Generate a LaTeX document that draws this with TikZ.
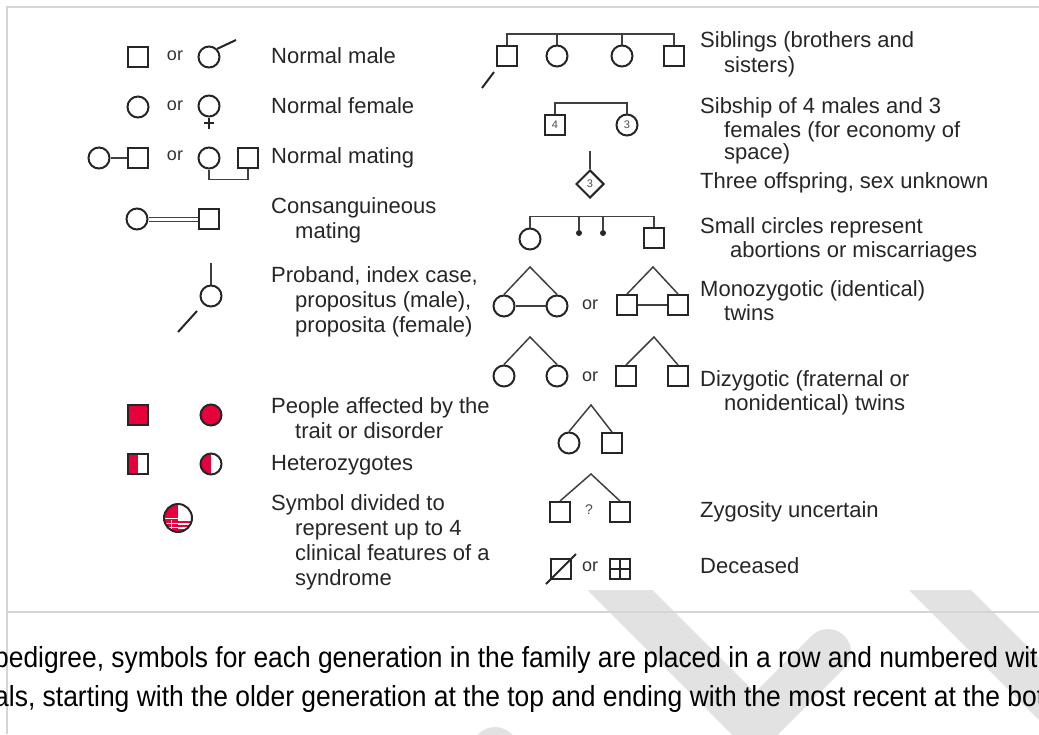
\documentclass[tikz,border=0pt]{standalone}
\usepackage{fontspec}
\usepackage{graphicx}
\setsansfont{Liberation Sans}
\usetikzlibrary{shapes.geometric}
\definecolor{cRed}{HTML}{E6003C}
\definecolor{cFrame}{HTML}{D2D6D6}
\definecolor{cMark}{HTML}{E2E2E2}
\newcommand{\ind}{\hspace*{24pt}}

\begin{document}
\begin{tikzpicture}[
  x=1pt, y=-1pt,
  every node/.style={font=\sffamily},
  male/.style={draw=black!85, line width=2pt, rectangle, minimum size=20pt, inner sep=0pt},
  female/.style={draw=black!85, line width=2pt, circle, minimum size=21pt, inner sep=0pt},
  sexless/.style={draw=black!85, line width=2pt, diamond, minimum width=28pt, minimum height=28pt, inner sep=0pt},
  lost/.style={fill=black!85, circle, minimum size=6pt, inner sep=0pt},
  link/.style={draw=black!75, line width=1.5pt},
  pointer/.style={draw=black!85, line width=2pt},
  desc/.style={anchor=north west, inner sep=0pt, align=left, text=black!85, font=\sffamily\fontsize{22}{25}\selectfont},
  descR/.style={desc, font=\sffamily\fontsize{22}{22}\selectfont},
  ortext/.style={inner sep=0pt, text=black!80, font=\sffamily\fontsize{18}{18}\selectfont},
  count/.style={font=\sffamily\fontsize{11}{11}\selectfont, text=black!70},
  affected/.style={fill=cRed},
  carrier/.style={path picture={\fill[cRed] (path picture bounding box.south west) rectangle (path picture bounding box.north);}},
  crossed/.style={path picture={\draw[black!85, line width=1.8pt] (path picture bounding box.north) -- (path picture bounding box.south) (path picture bounding box.west) -- (path picture bounding box.east);}},
  quarters/.style={path picture={
    \begin{scope}[shift={(path picture bounding box.center)}]
      \fill[cRed] (-15,-15) rectangle (0,15);
      \draw[white, line width=1pt] (-15,0) -- (0,0) (-12,5) -- (0,5) (-12,9) -- (0,9) (-7,2) -- (-7,12);
      \draw[cRed, line width=1.2pt] (0,4) -- (15,4) (0,8) -- (15,8) (0,12) -- (15,12);
    \end{scope}}},
]

\useasboundingbox (0,0) rectangle (1039,734);
\begin{scope}
\clip (0,590) rectangle (1039,734);
\draw[cMark, line width=46pt, line cap=round] (605,575) -- (755,725) -- (828,652);
\draw[cMark, line width=44pt] (925,575) -- (1100,750);
\draw[cMark, line width=46pt, line cap=round] (495,750) -- (560,815);
\end{scope}

\draw[cFrame, line width=2pt] (7,734) -- (7,7) -- (1039,7);
\draw[cFrame, line width=2pt] (7,612) -- (1039,612);

% left column
\node[male] (nm1) at (138,57) {};
\node[ortext] (or1) at (175,56) {or};
\node[female] (nm2) at (209,57) {};
\coordinate (nm2tip) at (236,40);
\draw[pointer] (nm2.45) -- (nm2tip);
\node[desc] (tnm) at (271,45.5) {\strut Normal male};

\node[female] (nf1) at (138,107) {};
\node[ortext] (or2) at (175,106) {or};
\node[female] (nf2) at (209,106) {};
\coordinate (nf2x) at (209,123);
\draw[pointer, line width=1.6pt] (nf2.south) -- ++(0,11);
\draw[pointer, line width=1.6pt] ([xshift=-5pt]nf2x) -- ([xshift=5pt]nf2x);
\node[desc] (tnf) at (271,95.5) {\strut Normal female};

\node[female] (mt1) at (99,158) {};
\node[male] (mt2) at (138,158) {};
\draw[link] (mt1) -- (mt2);
\node[ortext] (or3) at (175,156) {or};
\node[female] (mt3) at (209,158) {};
\node[male] (mt4) at (248,158) {};
\draw[link] (mt3.south) -- ++(0,10) -| (mt4.south);
\node[desc] (tmt) at (271,145.5) {\strut Normal mating};

\node[female] (cs1) at (137,219) {};
\node[male] (cs2) at (209,219) {};
\draw[link, line width=1pt, double, double distance=3pt] (cs1) -- (cs2);
\node[desc] (tcs) at (271,195.5) {\strut Consanguineous\\\ind mating};

\node[female] (pb) at (211,296) {};
\coordinate (pbtop) at (211,263);
\draw[link] (pbtop) -- (pb.north);
\coordinate (pba) at (178,332);
\coordinate (pbb) at (197,311);
\draw[pointer] (pba) -- (pbb);
\node[desc] (tpb) at (271,264.5) {\strut Proband, index case,\\\ind propositus (male),\\\ind proposita (female)};

\node[male, affected] (af1) at (138,415) {};
\node[female, affected] (af2) at (211,415) {};
\node[desc] (taf) at (271,395.5) {\strut People affected by the\\\ind trait or disorder};

\node[male, carrier] (hz1) at (138,464) {};
\node[female, carrier] (hz2) at (211,464) {};
\node[desc] (thz) at (271,452.5) {\strut Heterozygotes};

\node[female, minimum size=28pt, quarters] (dv) at (178,518) {};
\node[desc] (tdv) at (271,492.5) {\strut Symbol divided to\\\ind represent up to 4\\\ind clinical features of a\\\ind syndrome};

% right column
\node[male] (sb1) at (507,56) {};
\node[female] (sb2) at (557,56) {};
\node[female] (sb3) at (622,56) {};
\node[male] (sb4) at (674,56) {};
\coordinate (sbbar) at (0,34);
\draw[link] (sb1.north) |- (sbbar -| sb4.north) -- (sb4.north);
\foreach \s in {sb2, sb3} \draw[link] (\s.north) -- (\s.north |- sbbar);
\coordinate (sba) at (482,88);
\coordinate (sbb) at (494,72);
\draw[pointer] (sba) -- (sbb);
\node[desc] (tsb) at (700,29.5) {\strut Siblings (brothers and\\\ind sisters)};

\node[male, count] (sp1) at (555,125) {4};
\node[female, count] (sp2) at (627,125) {3};
\draw[link] (sp1.north) -- ++(0,-11) -| (sp2.north);
\node[descR] (tsp) at (700,97.6) {\strut Sibship of 4 males and 3\\\ind females (for economy of\\\ind space)};

\node[sexless, count] (tr) at (590,184) {3};
\coordinate (trtop) at (590,151);
\draw[link] (trtop) -- (tr.north);
\node[descR] (ttr) at (700,172.6) {\strut Three offspring, sex unknown};

\node[female] (ab1) at (530,239) {};
\node[lost] (ab2) at (579,233) {};
\node[lost] (ab3) at (603,233) {};
\node[male] (ab4) at (654,238) {};
\draw[link] (ab1.north) -- ++(0,-11) -| (ab4.north);
\coordinate (abbar) at (0,217);
\foreach \s in {ab2, ab3} \draw[link] (\s) -- (\s |- abbar);
\node[descR] (tab) at (700,217.6) {\strut Small circles represent\\\hspace*{30pt}abortions or miscarriages};

\node[female] (mz1) at (504,306) {};
\node[female] (mz2) at (557,306) {};
\coordinate (mzA) at (530,267);
\draw[link] (mz1.north) -- (mzA) -- (mz2.north);
\draw[link] (mz1) -- (mz2);
\node[ortext] (or4) at (590,305) {or};
\node[male] (mz3) at (627,305) {};
\node[male] (mz4) at (678,305) {};
\coordinate (mzB) at (653,267);
\draw[link] (mz3.north) -- (mzB) -- (mz4.north);
\draw[link] (mz3) -- (mz4);
\node[descR] (tmz) at (700,280.6) {\strut Monozygotic (identical)\\\ind twins};

\node[female] (dz1) at (504,376) {};
\node[female] (dz2) at (557,376) {};
\coordinate (dzA) at (530,337);
\draw[link] (dz1.north) -- (dzA) -- (dz2.north);
\node[ortext] (or5) at (590,377) {or};
\node[male] (dz3) at (626,376) {};
\node[male] (dz4) at (678,376) {};
\coordinate (dzB) at (654,337);
\draw[link] (dz3.north) -- (dzB) -- (dz4.north);
\node[descR] (tdz) at (700,370.6) {\strut Dizygotic (fraternal or\\\ind nonidentical) twins};

\node[female] (dz5) at (569,443) {};
\node[male] (dz6) at (612,443) {};
\coordinate (dzC) at (591,405);
\draw[link] (dz5.north) -- (dzC) -- (dz6.north);

\node[male] (zu1) at (560,512) {};
\node[male] (zu2) at (620,512) {};
\coordinate (zuA) at (591,474);
\draw[link] (zu1.north) -- (zuA) -- (zu2.north);
\node[count, font=\sffamily\fontsize{14}{14}\selectfont] (zuq) at (589,510) {?};
\node[descR] (tzu) at (700,501.6) {\strut Zygosity uncertain};

\node[male] (dc1) at (561,569) {};
\draw[pointer] ([shift={(-4,4)}]dc1.south west) -- ([shift={(4,-4)}]dc1.north east);
\node[ortext] (or7) at (590,567) {or};
\node[male, crossed] (dc2) at (620,569) {};
\node[descR] (tdc) at (700,557.6) {\strut Deceased};

% text below the figure
\begin{scope}
\clip (0,0) rectangle (1039,734);
\node[anchor=base west, inner sep=0pt] (para1) at (-6,667) {\resizebox{1058pt}{21pt}{pedigree, symbols for each generation in the family are placed in a row and numbered with}};
\node[anchor=base west, inner sep=0pt] (para2) at (-6,706) {\resizebox{1050pt}{21pt}{als, starting with the older generation at the top and ending with the most recent at the bot}};
\end{scope}

\end{tikzpicture}
\end{document}
